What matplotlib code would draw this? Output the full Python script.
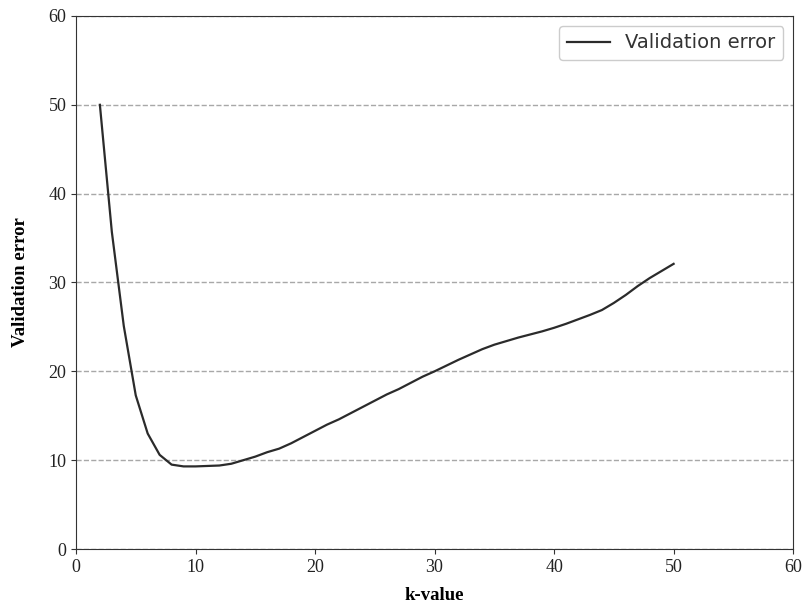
import numpy as np
import matplotlib
matplotlib.use('Agg')
import matplotlib.pyplot as plt

# validation error vs k
k_values = list(range(2, 51))
val_error = [
    50.0, 35.7, 25.1, 17.3, 13.0, 10.6, 9.5, 9.3, 9.3, 9.35,
    9.4, 9.6, 10.0, 10.4, 10.9, 11.3, 11.9, 12.6, 13.3, 14.0,
    14.6, 15.3, 16.0, 16.7, 17.4, 18.0, 18.7, 19.4, 20.0, 20.65,
    21.3, 21.9, 22.5, 23.0, 23.4, 23.8, 24.15, 24.5, 24.9, 25.35,
    25.85, 26.35, 26.9, 27.7, 28.6, 29.6, 30.5, 31.3, 32.1,
]
x_ticks = [0, 10, 20, 30, 40, 50, 60]
y_ticks = [0, 10, 20, 30, 40, 50, 60]

fig = plt.figure(figsize=(8.04, 6.12), dpi=100)
ax = fig.add_axes([0.0945, 0.1029, 0.892, 0.871])

ax.plot(k_values, val_error, color='#2b2b2b', lw=1.6, label='Validation error')

ax.set_xlim(0, 60)
ax.set_ylim(0, 60)
ax.set_xticks(x_ticks)
ax.set_yticks(y_ticks)
for lab in ax.get_xticklabels() + ax.get_yticklabels():
    lab.set_family('Liberation Serif')
    lab.set_fontsize(13)
ax.tick_params(colors='#333333', labelcolor='#222222')

ax.yaxis.grid(True, linestyle='--', color='#a8a8a8', lw=1.0)
ax.set_axisbelow(True)
for s in ax.spines.values():
    s.set_color('#333333')

ax.set_xlabel('k-value', family='Liberation Serif', fontweight='bold', fontsize=13.5, labelpad=8)
ax.set_ylabel('Validation error', family='Liberation Serif', fontweight='bold', fontsize=13.5, labelpad=14)

leg = ax.legend(loc='upper right', fontsize=14, fancybox=True, framealpha=1.0,
                handlelength=2.2, borderpad=0.4)
leg.get_frame().set_edgecolor('#cccccc')
for t in leg.get_texts():
    t.set_color('#333333')

fig.savefig('out.png', dpi=100)
